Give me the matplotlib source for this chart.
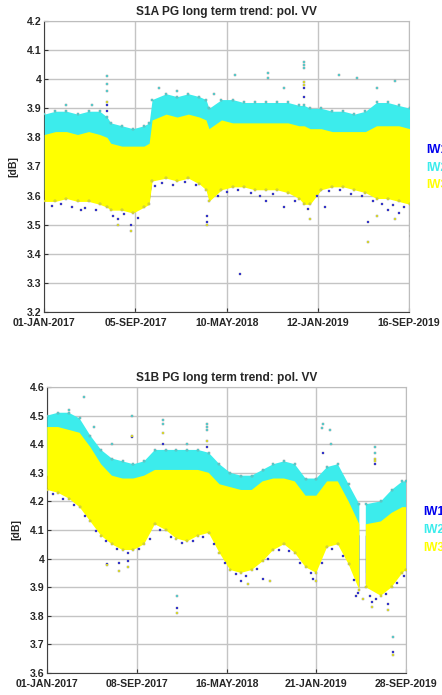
import numpy as np
import matplotlib
matplotlib.use("Agg")
import matplotlib.pyplot as plt

plt.rcParams['font.family'] = ['Liberation Sans', 'DejaVu Sans']

# ---------------- data ----------------
START = np.datetime64('2017-01-01')
SERIES = ['IW1', 'IW2', 'IW3']
COLORS = ['#0000ee', '#3cecec', '#ffff00']
nan = float('nan')

# S1A envelopes (days since 01-JAN-2017, dB)
S1A_DAYS = [0, 30, 60, 90, 120, 150, 170, 180, 210, 240, 270, 284, 292, 330, 360, 390, 420, 438, 446, 480,
            510, 540, 570, 600, 630, 660, 690, 704, 720, 750, 780, 810, 840, 870, 900, 930, 960, 990]
S1A_IW2_HI = [3.88, 3.89, 3.89, 3.88, 3.89, 3.89, 3.87, 3.85, 3.84, 3.83, 3.84, 3.85, 3.93, 3.95, 3.94, 3.95, 3.94, 3.93, 3.90, 3.93,
              3.93, 3.92, 3.92, 3.92, 3.92, 3.92, 3.91, 3.91, 3.90, 3.90, 3.89, 3.89, 3.88, 3.89, 3.92, 3.92, 3.91, 3.90]
S1A_IW2_LO = [3.62, 3.62, 3.63, 3.62, 3.62, 3.61, 3.60, 3.59, 3.59, 3.58, 3.60, 3.61, 3.69, 3.70, 3.69, 3.70, 3.68, 3.66, 3.62, 3.66,
              3.67, 3.67, 3.66, 3.66, 3.66, 3.65, 3.63, 3.61, 3.61, 3.66, 3.67, 3.67, 3.66, 3.65, 3.63, 3.63, 3.62, 3.61]
S1A_IW3_HI = [3.81, 3.82, 3.82, 3.81, 3.82, 3.81, 3.80, 3.78, 3.77, 3.77, 3.77, 3.78, 3.86, 3.88, 3.87, 3.88, 3.87, 3.86, 3.83, 3.86,
              3.85, 3.85, 3.85, 3.85, 3.85, 3.85, 3.84, 3.84, 3.83, 3.83, 3.82, 3.82, 3.82, 3.82, 3.84, 3.84, 3.84, 3.83]
S1A_IW3_LO = [3.58, 3.58, 3.59, 3.58, 3.58, 3.57, 3.56, 3.55, 3.55, 3.54, 3.56, 3.57, 3.65, 3.66, 3.65, 3.66, 3.64, 3.62, 3.58, 3.62,
              3.63, 3.63, 3.62, 3.62, 3.62, 3.61, 3.59, 3.57, 3.57, 3.62, 3.63, 3.63, 3.62, 3.61, 3.59, 3.59, 3.58, 3.57]
S1A_IW1_HI = [3.77, 3.78, 3.78, 3.77, 3.78, 3.77, 3.76, 3.74, 3.73, 3.73, 3.73, 3.74, 3.82, 3.84, 3.83, 3.84, 3.83, 3.82, 3.79, 3.82,
              3.81, 3.81, 3.81, 3.81, 3.81, 3.81, 3.80, 3.80, 3.79, 3.79, 3.78, 3.78, 3.78, 3.78, 3.80, 3.80, 3.80, 3.79]
S1A_IW1_LO = [3.59, 3.59, 3.60, 3.59, 3.59, 3.58, 3.57, 3.56, 3.56, 3.55, 3.57, 3.58, 3.66, 3.67, 3.66, 3.67, 3.65, 3.63, 3.59, 3.63,
              3.64, 3.64, 3.63, 3.63, 3.63, 3.62, 3.60, 3.58, 3.58, 3.63, 3.64, 3.64, 3.63, 3.62, 3.60, 3.60, 3.59, 3.58]

# S1A isolated points (day, dB)
S1A_IW1_PTS = [(531, 3.33), (236, 3.50), (441, 3.53), (441, 3.51), (876, 3.51), (994, 3.48), (704, 3.97), (704, 3.94),
               (170, 3.91), (170, 3.89), (100, 3.55), (200, 3.52), (600, 3.58), (650, 3.56), (760, 3.56), (930, 3.55), (960, 3.54),
               (20, 3.565), (45, 3.572), (75, 3.562), (110, 3.558), (140, 3.552), (185, 3.53), (215, 3.538), (255, 3.522),
               (300, 3.632), (320, 3.645), (350, 3.638), (380, 3.648), (410, 3.636), (470, 3.60), (495, 3.612), (525, 3.618),
               (560, 3.608), (585, 3.60), (620, 3.606), (680, 3.58), (715, 3.555), (740, 3.60), (770, 3.615), (800, 3.62),
               (830, 3.605), (860, 3.598), (890, 3.58), (915, 3.572), (945, 3.568), (975, 3.56)]
S1A_IW2_PTS = [(170, 4.01), (170, 3.985), (170, 3.96), (704, 4.06), (704, 4.05), (704, 4.04), (517, 4.015), (606, 4.02),
               (606, 4.005), (799, 4.015), (847, 4.005), (950, 3.995), (310, 3.97), (360, 3.96), (460, 3.95), (650, 3.97),
               (900, 3.97), (60, 3.91), (130, 3.91)]
S1A_IW3_PTS = [(170, 3.92), (704, 3.99), (704, 3.98), (236, 3.48), (876, 3.44), (994, 3.46), (441, 3.50), (200, 3.50),
               (720, 3.52), (900, 3.53), (950, 3.52)]

# S1B envelopes
S1B_DAYS = [0, 30, 60, 90, 120, 150, 180, 210, 240, 270, 300, 330, 360, 390, 420, 450, 480, 510, 540, 570,
            600, 630, 660, 690, 720, 750, 780, 810, 840, 870, 878, 888, 930, 960, 990, 1000]
S1B_IW2_HI = [4.50, 4.51, 4.51, 4.49, 4.43, 4.38, 4.35, 4.34, 4.33, 4.34, 4.38, 4.38, 4.38, 4.38, 4.38, 4.37, 4.33, 4.30, 4.29, 4.29,
              4.31, 4.33, 4.34, 4.33, 4.28, 4.28, 4.32, 4.33, 4.26, 4.19, nan, 4.19, 4.20, 4.24, 4.27, 4.27]
S1B_IW2_LO = [4.29, 4.28, 4.26, 4.23, 4.18, 4.13, 4.10, 4.08, 4.08, 4.10, 4.17, 4.15, 4.12, 4.11, 4.13, 4.14, 4.07, 4.01, 4.00, 4.01,
              4.04, 4.08, 4.10, 4.07, 4.02, 4.00, 4.09, 4.10, 4.03, 3.94, nan, 3.95, 3.92, 3.95, 4.00, 4.01]
S1B_IW3_HI = [4.46, 4.46, 4.45, 4.44, 4.39, 4.33, 4.29, 4.28, 4.28, 4.29, 4.31, 4.31, 4.31, 4.31, 4.31, 4.30, 4.26, 4.25, 4.24, 4.24,
              4.27, 4.28, 4.28, 4.27, 4.22, 4.22, 4.27, 4.27, 4.20, 4.12, nan, 4.12, 4.13, 4.16, 4.18, 4.18]
S1B_IW3_LO = [4.24, 4.23, 4.21, 4.18, 4.13, 4.08, 4.05, 4.03, 4.03, 4.05, 4.12, 4.10, 4.07, 4.06, 4.08, 4.09, 4.02, 3.96, 3.95, 3.96,
              3.99, 4.03, 4.05, 4.02, 3.97, 3.95, 4.04, 4.05, 3.98, 3.89, nan, 3.90, 3.87, 3.90, 3.95, 3.96]
S1B_IW1_HI = [4.42, 4.42, 4.41, 4.40, 4.35, 4.29, 4.25, 4.24, 4.24, 4.25, 4.27, 4.27, 4.27, 4.27, 4.27, 4.26, 4.22, 4.21, 4.20, 4.20,
              4.23, 4.24, 4.24, 4.23, 4.18, 4.18, 4.23, 4.23, 4.16, 4.08, nan, 4.08, 4.09, 4.12, 4.14, 4.14]
S1B_IW1_LO = [4.25, 4.24, 4.22, 4.19, 4.14, 4.09, 4.06, 4.04, 4.04, 4.06, 4.13, 4.11, 4.08, 4.07, 4.09, 4.10, 4.03, 3.97, 3.96, 3.97,
              4.00, 4.04, 4.06, 4.03, 3.98, 3.96, 4.05, 4.06, 3.99, 3.90, nan, 3.91, 3.88, 3.91, 3.96, 3.97]

S1B_IW1_PTS = [(361, 3.828), (965, 3.675), (235, 4.425), (323, 4.40), (444, 4.39), (914, 4.33), (770, 4.37), (166, 3.98),
               (200, 3.985), (224, 3.99), (904, 3.85), (950, 3.84), (860, 3.87), (540, 3.92), (600, 3.93), (740, 3.93),
               (15, 4.225), (45, 4.21), (75, 4.188), (105, 4.15), (135, 4.095), (165, 4.06), (195, 4.035), (225, 4.02),
               (255, 4.035), (285, 4.07), (315, 4.10), (345, 4.075), (375, 4.055), (405, 4.06), (435, 4.075), (465, 4.05),
               (495, 3.985), (525, 3.945), (555, 3.94), (585, 3.965), (615, 4.00), (645, 4.03), (675, 4.025), (705, 3.985),
               (735, 3.95), (765, 3.985), (795, 4.035), (825, 4.01), (855, 3.925), (865, 3.88), (900, 3.87), (915, 3.86),
               (945, 3.875), (975, 3.915), (995, 3.94)]
S1B_IW2_PTS = [(103, 4.566), (235, 4.50), (323, 4.485), (323, 4.47), (444, 4.47), (444, 4.46), (444, 4.45), (770, 4.47),
               (765, 4.455), (788, 4.45), (790, 4.40), (914, 4.39), (914, 4.37), (361, 3.869), (965, 3.727), (180, 4.40),
               (390, 4.40), (60, 4.52), (130, 4.46)]
S1B_IW3_PTS = [(361, 3.809), (965, 3.663), (235, 4.43), (323, 4.44), (444, 4.41), (914, 4.35), (914, 4.34), (200, 3.955),
               (166, 3.976), (224, 3.97), (904, 3.83), (950, 3.82), (880, 3.86), (560, 3.91), (620, 3.92), (750, 3.92)]

S1A_XTICK_DAYS = [0, 247, 494, 741, 988]
S1A_XTICK_LABELS = ['01-JAN-2017', '05-SEP-2017', '10-MAY-2018', '12-JAN-2019', '16-SEP-2019']
S1A_YTICKS = [3.2, 3.3, 3.4, 3.5, 3.6, 3.7, 3.8, 3.9, 4.0, 4.1, 4.2]
S1A_YTICK_LABELS = ['3.2', '3.3', '3.4', '3.5', '3.6', '3.7', '3.8', '3.9', '4', '4.1', '4.2']

S1B_XTICK_DAYS = [0, 250, 500, 750, 1000]
S1B_XTICK_LABELS = ['01-JAN-2017', '08-SEP-2017', '16-MAY-2018', '21-JAN-2019', '28-SEP-2019']
S1B_YTICKS = [3.6, 3.7, 3.8, 3.9, 4.0, 4.1, 4.2, 4.3, 4.4, 4.5, 4.6]
S1B_YTICK_LABELS = ['3.6', '3.7', '3.8', '3.9', '4', '4.1', '4.2', '4.3', '4.4', '4.5', '4.6']


def to_dates(days):
    return START + np.array(days, dtype='timedelta64[D]')


def draw_panel(ax, days, bands, pts, title, xt_days, xt_labels, yticks, ylabels):
    x = to_dates(days)
    for (lo, hi), c, z in zip(bands, COLORS, [2, 3, 4]):
        ax.fill_between(x, np.array(lo, float), np.array(hi, float), color=c, lw=0, zorder=z)
    # edge specks
    ax.plot(x, np.array(bands[1][1], float), ls='none', marker='s', ms=1.8, mfc=COLORS[1], mec='#8a8a8a', mew=0.3, zorder=3)
    ax.plot(x, np.array(bands[2][0], float), ls='none', marker='s', ms=1.8, mfc=COLORS[2], mec='#8a8a8a', mew=0.3, zorder=4)
    for p, c in zip(pts, COLORS):
        d = [q[0] for q in p]
        v = [q[1] for q in p]
        ax.plot(to_dates(d), v, ls='none', marker='s', ms=1.8, mfc=c, mec='#8a8a8a', mew=0.3, zorder=5)
    ax.set_xlim(to_dates([xt_days[0]])[0], to_dates([xt_days[-1]])[0])
    ax.set_ylim(yticks[0], yticks[-1])
    ax.set_xticks(to_dates(xt_days))
    ax.set_xticklabels(xt_labels)
    ax.set_yticks(yticks)
    ax.set_yticklabels(ylabels)
    ax.set_axisbelow(True)
    ax.grid(True, color='#c4c4c4', lw=1.0, zorder=0)
    ax.tick_params(direction='in', length=3, width=0.8, color='#333333', labelsize=7.6,
                   labelcolor='#262626')
    ax.tick_params(axis='y', pad=2)
    ax.tick_params(axis='x', pad=4)
    for lab in ax.get_xticklabels() + ax.get_yticklabels():
        lab.set_fontweight('bold')
    for s in ['left', 'bottom']:
        ax.spines[s].set_color('#404040')
        ax.spines[s].set_linewidth(0.8)
    for s in ['top', 'right']:
        ax.spines[s].set_color('#bdbdbd')
        ax.spines[s].set_linewidth(0.8)
    ax.set_title(title, fontsize=8.6, fontweight='bold', color='#262626', pad=4)
    ax.set_ylabel('[dB]', fontsize=7.6, fontweight='bold', color='#262626', labelpad=6)


W, H = 442, 695
fig = plt.figure(figsize=(W / 100, H / 100), dpi=100)
ax1 = fig.add_axes([44.3 / W, 1 - 312 / H, 364.7 / W, 291 / H])
ax2 = fig.add_axes([47.3 / W, 1 - 673 / H, 358.7 / W, 286 / H])

draw_panel(ax1, S1A_DAYS,
           [(S1A_IW1_LO, S1A_IW1_HI), (S1A_IW2_LO, S1A_IW2_HI), (S1A_IW3_LO, S1A_IW3_HI)],
           [S1A_IW1_PTS, S1A_IW2_PTS, S1A_IW3_PTS],
           'S1A PG long term trend: pol. VV', S1A_XTICK_DAYS, S1A_XTICK_LABELS, S1A_YTICKS, S1A_YTICK_LABELS)
draw_panel(ax2, S1B_DAYS,
           [(S1B_IW1_LO, S1B_IW1_HI), (S1B_IW2_LO, S1B_IW2_HI), (S1B_IW3_LO, S1B_IW3_HI)],
           [S1B_IW1_PTS, S1B_IW2_PTS, S1B_IW3_PTS],
           'S1B PG long term trend: pol. VV', S1B_XTICK_DAYS, S1B_XTICK_LABELS, S1B_YTICKS, S1B_YTICK_LABELS)

# legends (text entries, partly cut by figure edge as in the original)
for (x0, ys) in [(426, [150, 168, 185]), (423, [512, 530, 548])]:
    for name, c, y in zip(SERIES, COLORS, ys):
        fig.text(x0 / W, 1 - y / H, name, color=c, fontsize=8.6, fontweight='bold', va='center', ha='left')

fig.savefig('out.png', dpi=100)
